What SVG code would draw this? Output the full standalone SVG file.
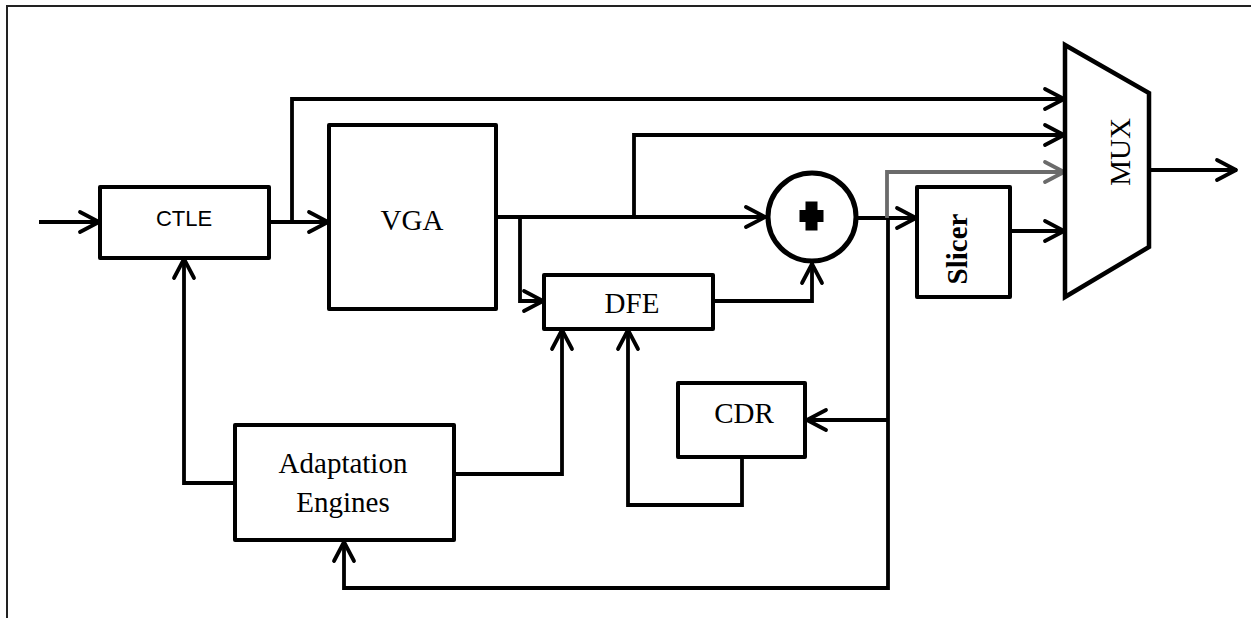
<svg xmlns="http://www.w3.org/2000/svg" width="1251" height="618" viewBox="0 0 1251 618">
<style>
.box{fill:#fff;stroke:#000;stroke-width:4;stroke-linejoin:round}
.wire{fill:none;stroke:#000;stroke-width:3.8;stroke-linejoin:miter}
.gray{fill:none;stroke:#6b6b6b;stroke-width:3.8}
.serif{font-family:"Liberation Serif","Times New Roman",serif;font-size:29px;fill:#000}
.sans{font-family:"Liberation Sans",Arial,sans-serif;font-size:22px;fill:#000}
</style>
<defs>
<marker id="arr" markerUnits="userSpaceOnUse" markerWidth="30" markerHeight="30" viewBox="-26 -15 30 30" refX="0" refY="0" orient="auto">
<path d="M-20,-10 L-1,0 L-20,10" fill="none" stroke="#000" stroke-width="3.8" stroke-linecap="round" stroke-linejoin="round"/>
</marker>
<marker id="arrg" markerUnits="userSpaceOnUse" markerWidth="30" markerHeight="30" viewBox="-26 -15 30 30" refX="0" refY="0" orient="auto">
<path d="M-20,-10 L-1,0 L-20,10" fill="none" stroke="#6b6b6b" stroke-width="3.8" stroke-linecap="round" stroke-linejoin="round"/>
</marker>
</defs>
<rect width="1251" height="618" fill="#fff"/>
<path d="M7,618 V6 H1251" fill="none" stroke="#222" stroke-width="2"/>
<g id="connectors">
<path class="wire" d="M39,222 H100" marker-end="url(#arr)"/>
<path class="wire" d="M269,222 H329" marker-end="url(#arr)"/>
<path class="wire" d="M292,222 V99 H1065" marker-end="url(#arr)"/>
<path class="wire" d="M496,217 H766" marker-end="url(#arr)"/>
<path class="wire" d="M634,217 V135 H1065" marker-end="url(#arr)"/>
<path class="wire" d="M520,217 V301 H544" marker-end="url(#arr)"/>
<path class="wire" d="M713,301 H812 V263" marker-end="url(#arr)"/>
<path class="wire" d="M856,218 H917" marker-end="url(#arr)"/>
<path class="gray" d="M887,218 V172 H1065" marker-end="url(#arrg)"/>
<path class="wire" d="M1010,231 H1065" marker-end="url(#arr)"/>
<path class="wire" d="M1149,170 H1237" marker-end="url(#arr)"/>
<path class="wire" d="M888,218 V588 H344 V541" marker-end="url(#arr)"/>
<path class="wire" d="M888,420 H806" marker-end="url(#arr)"/>
<path class="wire" d="M742,457 V505 H628 V329" marker-end="url(#arr)"/>
<path class="wire" d="M454,474 H562 V329" marker-end="url(#arr)"/>
<path class="wire" d="M235,483 H184 V258" marker-end="url(#arr)"/>
</g>
<g id="ctle">
<rect class="box" x="100" y="187" width="169" height="71"/>
<text class="sans" x="184" y="226" text-anchor="middle">CTLE</text>
</g>
<g id="vga">
<rect class="box" x="329" y="125" width="167" height="184"/>
<text class="serif" x="412" y="230" text-anchor="middle">VGA</text>
</g>
<g id="dfe">
<rect class="box" x="544" y="275" width="169" height="54"/>
<text class="serif" x="632" y="313" text-anchor="middle">DFE</text>
</g>
<g id="summer">
<circle cx="812" cy="217" r="44" fill="#fff" stroke="#000" stroke-width="5"/>
<polygon points="805.5,201.5 817.5,201.5 817.5,210 823.5,210 823.5,222 817.5,222 817.5,230.5 805.5,230.5 805.5,222 799.5,222 799.5,210 805.5,210" fill="#000"/>
</g>
<g id="slicer">
<rect class="box" x="917" y="187" width="93" height="110"/>
<text class="serif" transform="translate(967,249) rotate(-90)" x="0" y="0" text-anchor="middle" font-weight="bold">Slicer</text>
</g>
<g id="mux">
<polygon points="1065,45 1149,93 1149,247 1065,297" fill="#fff" stroke="#000" stroke-width="4.5" stroke-linejoin="miter"/>
<text class="serif" transform="translate(1130,152) rotate(-90)" x="0" y="0" text-anchor="middle">MUX</text>
</g>
<g id="cdr">
<rect class="box" x="678" y="383" width="127" height="74"/>
<text class="serif" x="744" y="423" text-anchor="middle">CDR</text>
</g>
<g id="adaptation">
<rect class="box" x="235" y="425" width="219" height="115"/>
<text class="serif" x="343" y="473" text-anchor="middle">Adaptation</text>
<text class="serif" x="343" y="512" text-anchor="middle">Engines</text>
</g>
</svg>
